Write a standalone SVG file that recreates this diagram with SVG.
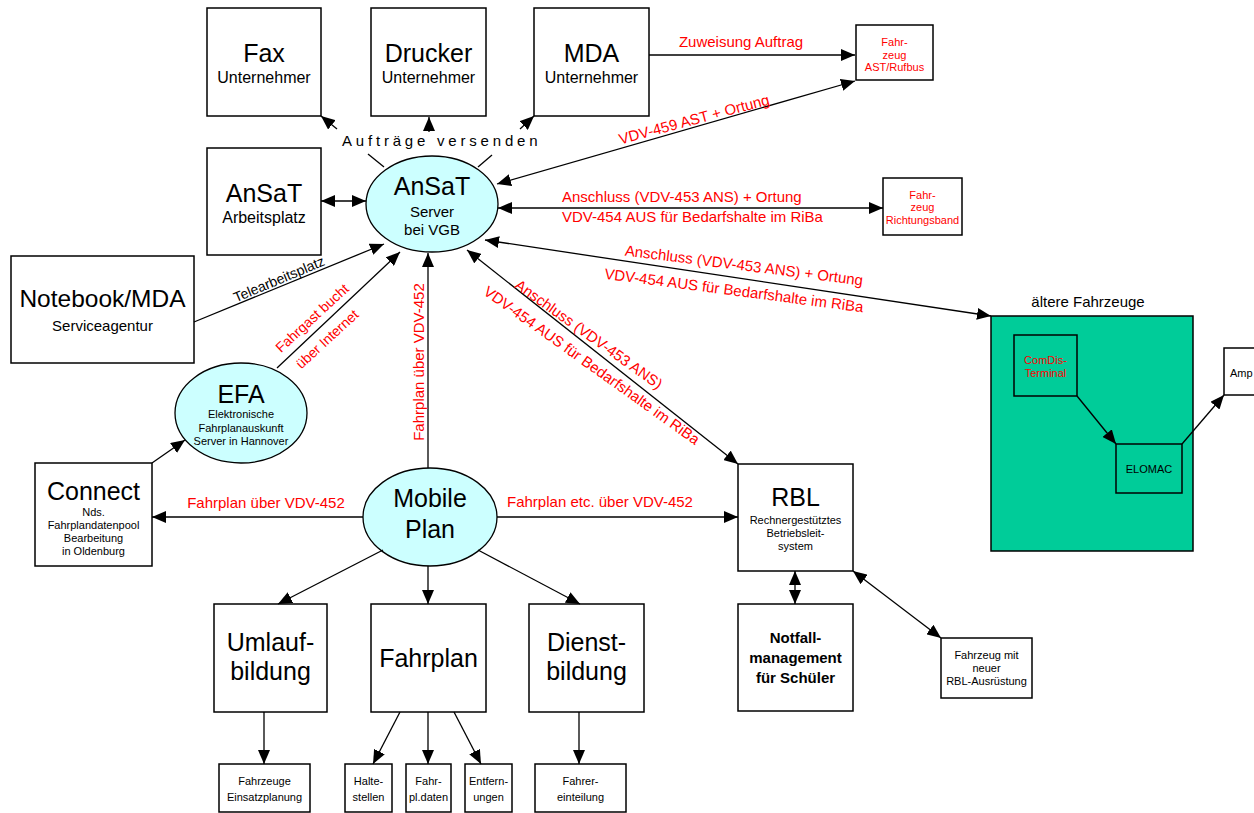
<svg xmlns="http://www.w3.org/2000/svg" width="1254" height="813" viewBox="0 0 1254 813">
<defs>
<style>
.box{fill:#fff;stroke:#000;stroke-width:1.5}
.grn{fill:#00cc99;stroke:#000;stroke-width:1.5}
.ell{fill:#ccffff;stroke:#000;stroke-width:1.3}
.ln{stroke:#000;stroke-width:1.3;fill:none}
text{font-family:"Liberation Sans",Arial,sans-serif;fill:#000;text-anchor:middle}
.big{font-size:25px}
.sub{font-size:16px}
.s15{font-size:15px}
.sm{font-size:11px}
.red{fill:#ff0000}
.lbl{font-size:15px;fill:#ff0000}
.bold{font-size:15px;font-weight:bold}
</style>
<marker id="ah" viewBox="0 0 14 12" refX="14" refY="6" markerWidth="14" markerHeight="12" markerUnits="userSpaceOnUse" orient="auto-start-reverse">
<path d="M0,0L14,6L0,12z" fill="#000"/>
</marker>
</defs>
<rect width="1254" height="813" fill="#fff"/>

<g id="fax"><rect class="box" x="207" y="8" width="114" height="108"/><text class="big" x="264" y="62">Fax</text><text class="sub" x="264" y="83">Unternehmer</text></g>
<g id="drucker"><rect class="box" x="371" y="8" width="115" height="108"/><text class="big" x="428.5" y="62">Drucker</text><text class="sub" x="428.5" y="83">Unternehmer</text></g>
<g id="mda"><rect class="box" x="534" y="8" width="115" height="108"/><text class="big" x="591.5" y="62">MDA</text><text class="sub" x="591.5" y="83">Unternehmer</text></g>
<g id="fahrzeug-ast"><rect class="box" x="856" y="25" width="77" height="55"/><text class="sm red" x="894.5" y="46">Fahr-</text><text class="sm red" x="894.5" y="58.5">zeug</text><text class="sm red" x="894.5" y="71">AST/Rufbus</text></g>
<g id="ansat-arbeitsplatz"><rect class="box" x="207" y="148" width="114" height="107"/><text class="big" x="264" y="202">AnSaT</text><text class="sub" x="264" y="223">Arbeitsplatz</text></g>
<g id="ansat-server"><ellipse class="ell" cx="432" cy="204" rx="66" ry="48"/><text class="big" x="432" y="195">AnSaT</text><text class="s15" x="432" y="217">Server</text><text class="s15" x="432" y="235">bei VGB</text></g>
<g id="fahrzeug-riba"><rect class="box" x="883" y="178" width="79" height="57"/><text class="sm red" x="922.5" y="199">Fahr-</text><text class="sm red" x="922.5" y="211">zeug</text><text class="sm red" x="922.5" y="224">Richtungsband</text></g>
<g id="notebook"><rect class="box" x="11" y="256" width="183" height="107"/><text style="font-size:24.5px" x="102.5" y="307">Notebook/MDA</text><text class="s15" x="102.5" y="331">Serviceagentur</text></g>
<g id="efa"><ellipse class="ell" cx="241" cy="413" rx="66" ry="50"/><text class="big" x="241" y="403">EFA</text><text class="sm" x="241" y="418">Elektronische</text><text class="sm" x="241" y="431.5">Fahrplanauskunft</text><text class="sm" x="241" y="445">Server in Hannover</text></g>
<g id="connect"><rect class="box" x="35" y="463" width="117" height="103"/><text class="big" x="93.5" y="500">Connect</text><text class="sm" x="93.5" y="516">Nds.</text><text class="sm" x="93.5" y="529">Fahrplandatenpool</text><text class="sm" x="93.5" y="542">Bearbeitung</text><text class="sm" x="93.5" y="555">in Oldenburg</text></g>
<g id="mobile-plan"><ellipse class="ell" cx="430" cy="517" rx="67" ry="49"/><text class="big" x="430" y="507">Mobile</text><text class="big" x="430" y="538">Plan</text></g>
<g id="rbl"><rect class="box" x="738" y="464" width="115" height="107"/><text class="big" x="795.5" y="506">RBL</text><text class="sm" x="795.5" y="524">Rechnergestütztes</text><text class="sm" x="795.5" y="537">Betriebsleit-</text><text class="sm" x="795.5" y="550">system</text></g>
<g id="aeltere-fahrzeuge"><rect class="grn" x="991" y="316" width="202" height="235"/><text class="s15" x="1088" y="307">ältere Fahrzeuge</text></g>
<g id="comdis"><rect class="grn" x="1014" y="335" width="63" height="61"/><text class="sm red" x="1045.5" y="364">ComDis-</text><text class="sm red" x="1045.5" y="377">Terminal</text></g>
<g id="elomac"><rect class="grn" x="1116" y="444" width="66" height="49"/><text class="sm" x="1149" y="473">ELOMAC</text></g>
<g id="amp"><rect class="box" x="1224" y="348" width="40" height="47"/><text class="sm" x="1230" y="377" style="text-anchor:start">Amp</text></g>
<g id="umlauf"><rect class="box" x="214" y="604" width="113" height="108"/><text class="big" x="270.5" y="651">Umlauf-</text><text class="big" x="270.5" y="680">bildung</text></g>
<g id="fahrplan"><rect class="box" x="371" y="604" width="115" height="108"/><text class="big" x="428.5" y="667">Fahrplan</text></g>
<g id="dienst"><rect class="box" x="529" y="604" width="115" height="108"/><text class="big" x="586.5" y="651">Dienst-</text><text class="big" x="586.5" y="680">bildung</text></g>
<g id="notfall"><rect class="box" x="738" y="604" width="115" height="107"/><text class="bold" x="795.5" y="643">Notfall-</text><text class="bold" x="795.5" y="663">management</text><text class="bold" x="795.5" y="683">für Schüler</text></g>
<g id="fahrzeug-rbl"><rect class="box" x="941" y="638" width="91" height="60"/><text class="sm" x="986.5" y="659">Fahrzeug mit</text><text class="sm" x="986.5" y="672">neuer</text><text class="sm" x="986.5" y="685">RBL-Ausrüstung</text></g>
<g id="fahrzeuge-einsatz"><rect class="box" x="219" y="764" width="91" height="48"/><text class="sm" x="264.5" y="785">Fahrzeuge</text><text class="sm" x="264.5" y="801">Einsatzplanung</text></g>
<g id="haltestellen"><rect class="box" x="345" y="764" width="47" height="48"/><text class="sm" x="368.5" y="785">Halte-</text><text class="sm" x="368.5" y="801">stellen</text></g>
<g id="fahrpldaten"><rect class="box" x="406" y="764" width="45" height="48"/><text class="sm" x="428.5" y="785">Fahr-</text><text class="sm" x="428.5" y="801">pl.daten</text></g>
<g id="entfernungen"><rect class="box" x="465" y="764" width="47" height="48"/><text class="sm" x="488.5" y="785">Entfern-</text><text class="sm" x="488.5" y="801">ungen</text></g>
<g id="fahrereinteilung"><rect class="box" x="535" y="764" width="91" height="48"/><text class="sm" x="580.5" y="785">Fahrer-</text><text class="sm" x="580.5" y="801">einteilung</text></g>

<g id="connectors">
<line class="ln" x1="384" y1="167" x2="368" y2="154"/>
<line class="ln" x1="337" y1="129" x2="321" y2="116" marker-end="url(#ah)"/>
<line class="ln" x1="429" y1="132" x2="429" y2="117" marker-end="url(#ah)"/>
<line class="ln" x1="478" y1="167" x2="492" y2="155"/>
<line class="ln" x1="520" y1="129" x2="534" y2="116" marker-end="url(#ah)"/>
<line class="ln" x1="649" y1="55" x2="855" y2="55" marker-end="url(#ah)"/>
<line class="ln" x1="497" y1="184" x2="855" y2="81" marker-start="url(#ah)" marker-end="url(#ah)"/>
<line class="ln" x1="321" y1="201" x2="366" y2="201" marker-start="url(#ah)" marker-end="url(#ah)"/>
<line class="ln" x1="498" y1="208" x2="883" y2="208" marker-start="url(#ah)" marker-end="url(#ah)"/>
<line class="ln" x1="485" y1="240" x2="991" y2="316" marker-start="url(#ah)" marker-end="url(#ah)"/>
<line class="ln" x1="194" y1="322" x2="384" y2="244" marker-end="url(#ah)"/>
<line class="ln" x1="277" y1="368" x2="400" y2="252" marker-end="url(#ah)"/>
<line class="ln" x1="152" y1="463" x2="185" y2="440" marker-end="url(#ah)"/>
<line class="ln" x1="428" y1="468" x2="428" y2="253" marker-end="url(#ah)"/>
<line class="ln" x1="467" y1="250" x2="738" y2="464" marker-start="url(#ah)" marker-end="url(#ah)"/>
<line class="ln" x1="363" y1="517" x2="152" y2="517" marker-end="url(#ah)"/>
<line class="ln" x1="497" y1="517" x2="738" y2="517" marker-end="url(#ah)"/>
<line class="ln" x1="383" y1="550" x2="278" y2="604" marker-end="url(#ah)"/>
<line class="ln" x1="428" y1="566" x2="428" y2="604" marker-end="url(#ah)"/>
<line class="ln" x1="478" y1="550" x2="580" y2="604" marker-end="url(#ah)"/>
<line class="ln" x1="795" y1="571" x2="795" y2="604" marker-start="url(#ah)" marker-end="url(#ah)"/>
<line class="ln" x1="853" y1="571" x2="941" y2="638" marker-start="url(#ah)" marker-end="url(#ah)"/>
<line class="ln" x1="1077" y1="396" x2="1116" y2="444" marker-end="url(#ah)"/>
<line class="ln" x1="1182" y1="444" x2="1224" y2="395" marker-end="url(#ah)"/>
<line class="ln" x1="264" y1="712" x2="264" y2="764" marker-end="url(#ah)"/>
<line class="ln" x1="400" y1="712" x2="373" y2="764" marker-end="url(#ah)"/>
<line class="ln" x1="428" y1="712" x2="428" y2="764" marker-end="url(#ah)"/>
<line class="ln" x1="454" y1="712" x2="481" y2="764" marker-end="url(#ah)"/>
<line class="ln" x1="579" y1="712" x2="579" y2="764" marker-end="url(#ah)"/>

<text class="s15" x="342" y="146" style="text-anchor:start;letter-spacing:3.8px">Aufträge versenden</text>
<text class="lbl" x="741" y="47">Zuweisung Auftrag</text>
<text class="lbl" transform="translate(694,119) rotate(-15)" x="0" y="5.5">VDV-459 AST + Ortung</text>
<text class="lbl" x="562" y="202" style="text-anchor:start">Anschluss (VDV-453 ANS) + Ortung</text>
<text class="lbl" x="562" y="222" style="text-anchor:start">VDV-454 AUS für Bedarfshalte im RiBa</text>
<text class="lbl" transform="translate(744,265) rotate(7.2)" x="0" y="5.5">Anschluss (VDV-453 ANS) + Ortung</text>
<text class="lbl" transform="translate(734,290) rotate(7.4)" x="0" y="5.5">VDV-454 AUS für Bedarfshalte im RiBa</text>
<text style="font-size:14px" transform="translate(279,279) rotate(-22.7)" x="0" y="5">Telearbeitsplatz</text>
<text class="lbl" style="font-size:14px" transform="translate(312,318) rotate(-42.6)" x="0" y="5">Fahrgast bucht</text>
<text class="lbl" style="font-size:14px" transform="translate(327,339) rotate(-42.6)" x="0" y="5">über Internet</text>
<text class="lbl" transform="translate(418,362) rotate(-90)" x="0" y="5.5">Fahrplan über VDV-452</text>
<text class="lbl" transform="translate(589,334) rotate(35.5)" x="0" y="5.5">Anschluss (VDV-453 ANS)</text>
<text class="lbl" transform="translate(592,365) rotate(35.5)" x="0" y="5.5">VDV-454 AUS für Bedarfshalte im RiBa</text>
<text class="lbl" x="266" y="508">Fahrplan über VDV-452</text>
<text class="lbl" x="600" y="507">Fahrplan etc. über VDV-452</text>
</g>
</svg>
